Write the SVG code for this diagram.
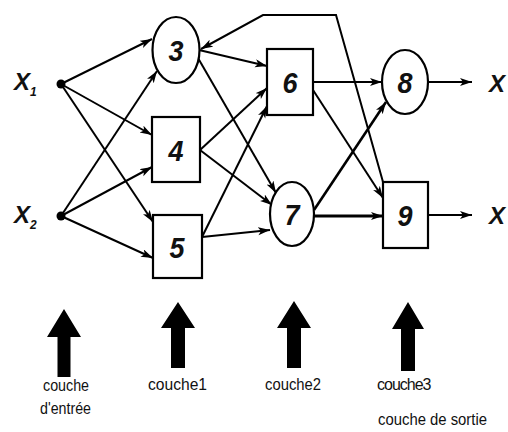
<svg xmlns="http://www.w3.org/2000/svg" width="508" height="432" viewBox="0 0 508 432">
<defs>
<style>
.node{fill:#fff;stroke:#000;stroke-width:2.2}
.num{font-family:"Liberation Sans",Arial,sans-serif;font-weight:bold;font-style:italic;font-size:30px;text-anchor:middle;fill:#111}
.lab{font-family:"Liberation Sans",Arial,sans-serif;font-weight:bold;font-style:italic;fill:#111}
.cap{font-family:"Liberation Sans",Arial,sans-serif;font-size:16px;fill:#111}
.e{fill:none;stroke:#000;stroke-width:2;marker-end:url(#ah)}
.big{fill:#000}
</style>
<marker id="ah" markerUnits="userSpaceOnUse" markerWidth="14" markerHeight="10" refX="12" refY="4" orient="auto">
<path d="M0,0 L12,4 L0,8 L3,4 z" fill="#000"/>
</marker>
</defs>
<rect width="508" height="432" fill="#fff"/>
<g id="connectors">
<path class="e" d="M61,84 L152,39"/>
<path class="e" d="M61,84 L152,135"/>
<path class="e" d="M61,84 L153,222"/>
<path class="e" d="M61,216 L157,71"/>
<path class="e" d="M61,216 L152,167"/>
<path class="e" d="M61,216 L153,258"/>
<path class="e" d="M199,50 L267,66"/>
<path class="e" d="M198,58 L276,193"/>
<path class="e" d="M200,150 L267,88"/>
<path class="e" d="M200,150 L272,205"/>
<path class="e" d="M202,237 L267,106"/>
<path class="e" d="M202,237 L270,230"/>
<path class="e" d="M313,82 L382,82"/>
<path class="e" d="M313,90 L383,198"/>
<path class="e" style="stroke-width:2.6" d="M314,210 L386,102"/>
<path class="e" style="stroke-width:3" d="M314,216 L383,216"/>
<path class="e" d="M428,82 L472,82"/>
<path class="e" d="M428,215 L472,215"/>
<path class="e" d="M383,182 L336,15 L263,15 L201,49"/>
</g>
<g id="x1"><circle cx="61" cy="84" r="4.5" fill="#000"/><text class="lab" x="14" y="90" font-size="24">X</text><text class="lab" x="30" y="96" font-size="12">1</text></g>
<g id="x2"><circle cx="61" cy="216" r="4.5" fill="#000"/><text class="lab" x="14" y="223" font-size="24">X</text><text class="lab" x="30" y="229" font-size="12">2</text></g>
<g id="n3"><ellipse class="node" cx="176" cy="50" rx="23.5" ry="33"/><text class="num" x="176" y="61" textLength="15" lengthAdjust="spacingAndGlyphs">3</text></g>
<g id="n4"><rect class="node" x="152" y="117" width="48" height="65"/><text class="num" x="176" y="161" textLength="15" lengthAdjust="spacingAndGlyphs">4</text></g>
<g id="n5"><rect class="node" x="153" y="215" width="49" height="63"/><text class="num" x="177" y="258" textLength="15" lengthAdjust="spacingAndGlyphs">5</text></g>
<g id="n6"><rect class="node" x="267" y="49" width="46" height="66"/><text class="num" x="290" y="93" textLength="15" lengthAdjust="spacingAndGlyphs">6</text></g>
<g id="n7"><ellipse class="node" cx="292" cy="214" rx="22" ry="32"/><text class="num" x="292" y="225" textLength="15" lengthAdjust="spacingAndGlyphs">7</text></g>
<g id="n8"><ellipse class="node" cx="405" cy="82" rx="23" ry="32"/><text class="num" x="405" y="93" textLength="15" lengthAdjust="spacingAndGlyphs">8</text></g>
<g id="n9"><rect class="node" x="383" y="182" width="45" height="66"/><text class="num" x="405" y="226" textLength="15" lengthAdjust="spacingAndGlyphs">9</text></g>
<g id="out1"><text class="lab" x="489" y="92" font-size="24">X</text></g>
<g id="out2"><text class="lab" x="489" y="224" font-size="24">X</text></g>
<g id="layers">
<path class="big" d="M64,309 L81,337 L70.5,337 L70.5,377 L57.5,377 L57.5,337 L47,337 Z"/>
<path class="big" d="M178,302 L195,328 L185,328 L185,368 L171,368 L171,328 L161,328 Z"/>
<path class="big" d="M294,301 L311,328 L301,328 L301,368 L287,368 L287,328 L277,328 Z"/>
<path class="big" d="M408,302 L424,329 L415,329 L415,371 L401,371 L401,329 L392,329 Z"/>
<text class="cap" x="43" y="391" textLength="46" lengthAdjust="spacingAndGlyphs">couche</text>
<text class="cap" x="40" y="414" textLength="51" lengthAdjust="spacingAndGlyphs">d'entrée</text>
<text class="cap" x="148" y="390" textLength="59" lengthAdjust="spacingAndGlyphs">couche1</text>
<text class="cap" x="265" y="390" textLength="56" lengthAdjust="spacingAndGlyphs">couche2</text>
<text class="cap" x="377" y="390" letter-spacing="-1">couche3</text>
<text class="cap" x="378" y="425" textLength="109" lengthAdjust="spacingAndGlyphs">couche de sortie</text>
</g>
</svg>
